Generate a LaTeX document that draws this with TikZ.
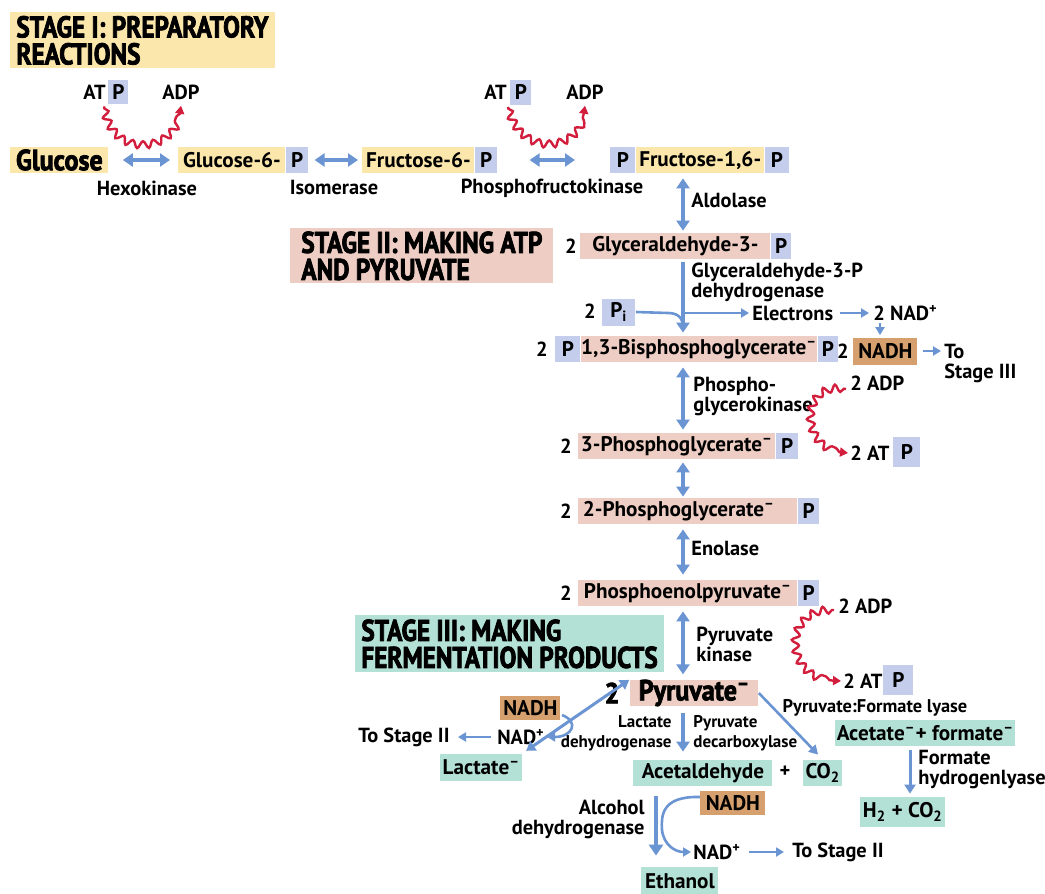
\documentclass[tikz,border=0pt]{standalone}
\usepackage{fontspec}
\setmainfont{PT Sans}
\newfontfamily\hfont{PT Sans}[FakeStretch=0.84,FakeBold=2.5]
\newfontfamily\gfont{PT Sans}[FakeStretch=0.9,FakeBold=2.5]
\usetikzlibrary{arrows.meta,decorations.pathmorphing}
\definecolor{ylw}{RGB}{251,230,172}
\definecolor{pblu}{RGB}{196,206,236}
\definecolor{pnk}{RGB}{238,206,196}
\definecolor{grn}{RGB}{180,225,213}
\definecolor{brn}{RGB}{214,160,110}
\definecolor{ablu}{RGB}{106,148,210}
\definecolor{rd}{RGB}{210,30,60}
\newcommand{\supminus}{\textsuperscript{\textendash}}
\newcommand{\supplus}{\textsuperscript{+}}
\tikzset{
 txt/.style={font=\bfseries\fontsize{10.2}{10}\selectfont, inner sep=0pt, align=left},
 sml/.style={font=\bfseries\fontsize{8.5}{10}\selectfont},
 bx/.style={font=\bfseries\fontsize{10.6}{10}\selectfont, align=left, minimum height=13pt, inner sep=0pt, anchor=west},
 ybox/.style={bx, fill=ylw},
 pbx/.style={bx, fill=pblu},
 kbox/.style={bx, fill=pnk},
 gbox/.style={bx, fill=grn},
 nbox/.style={bx, fill=brn},
 head/.style={font=\hfont\bfseries\fontsize{15}{13.5}\selectfont, align=left, inner xsep=3pt, inner ysep=0pt, anchor=north west},
 big/.style={font=\gfont\bfseries\fontsize{14.5}{13}\selectfont},
 dbl/.style={draw=ablu, line width=2pt, {Triangle[length=5pt,width=6.5pt]}-{Triangle[length=5pt,width=6.5pt]}},
 sgl/.style={draw=ablu, line width=2pt, -{Triangle[length=5pt,width=6.5pt]}},
 thn/.style={draw=ablu, line width=1.3pt, -{Triangle[length=4pt,width=4.5pt]}},
 wavy/.style={draw=rd, line width=1.2pt, -{Triangle[length=4pt,width=4.5pt]}, decorate, decoration={snake, amplitude=1.8pt, segment length=5.5pt, pre length=1pt, post length=4pt}},
}
\begin{document}
\begin{tikzpicture}[x=0.5pt,y=-0.5pt]
\useasboundingbox (0,0) rectangle (1045,894);
\coordinate (ax) at (683,0);
% ---------- headings
\node[head, fill=ylw, minimum width=130pt, minimum height=28pt] (s1) at (10,12) {STAGE I: PREPARATORY\\REACTIONS};
\node[head, fill=pnk, minimum width=131.5pt, minimum height=27.5pt] (s2) at (290,228) {STAGE II: MAKING ATP\\AND PYRUVATE};
\node[head, fill=grn, minimum width=150pt, minimum height=28.5pt] (s3) at (355,615) {STAGE III: MAKING\\FERMENTATION PRODUCTS};
% ---------- stage I
\node[txt, anchor=east] (at1) at (106,92) {AT};
\node[pbx, minimum width=10pt, minimum height=12pt] (at1p) at (108,92) {P};
\node[txt] (adp1) at (181,92) {ADP};
\node[txt, anchor=east] (at2) at (507,92) {AT};
\node[pbx, minimum width=10.5pt, minimum height=12.5pt] (at2p) at (510,92) {P};
\node[txt] (adp2) at (585,92) {ADP};

\node[ybox, big, minimum width=49pt] (glc) at (10,160) {Glucose};
\node[ybox, minimum width=53.5pt] (g6) at (178,160) {Glucose-6-};
\node[pbx, minimum width=11pt] (g6p) at (g6.east) {P};
\node[ybox, minimum width=56pt] (f6) at (362,160) {Fructose-6-};
\node[pbx, minimum width=11pt] (f6p) at (f6.east) {P};
\node[pbx, minimum width=12.5pt] (f16a) at (610,160) {P};
\node[ybox, minimum width=64pt] (f16) at (f16a.east) {Fructose-1,6-};
\node[pbx, minimum width=12pt] (f16b) at (f16.east) {P};

\node[txt] (hexo) at (147,188) {Hexokinase};
\node[txt] (iso) at (334,188) {Isomerase};
\node[txt] (pfk) at (552,188) {Phosphofructokinase};
\node[txt, anchor=west] (ald) at (691,200) {Aldolase};

\draw[dbl, shorten <=7pt, shorten >=4pt] (glc) -- (g6);
\draw[dbl, shorten <=3pt, shorten >=2pt] (g6p) -- (f6);
\draw[dbl, shorten <=16pt, shorten >=17.5pt] (f6p) -- (f16a);
\draw[wavy] ([xshift=-2pt,yshift=-1pt]at1p.south west) .. controls (112,158) and (178,150) .. ([yshift=-3pt]adp1.south);
\draw[wavy] ([xshift=-1pt,yshift=-1pt]at2p.south west) .. controls (520,156) and (582,150) .. ([yshift=-3pt]adp2.south);
% ---------- stage II
\node[txt] (two1) at (571,246) {2};
\node[kbox, minimum width=95pt] (gap) at (580,246) {Glyceraldehyde-3-};
\node[pbx, minimum width=10pt] (gapp) at (gap.east) {P};
\draw[dbl, shorten <=2.5pt, shorten >=1pt] (f16.south -| ax) -- (gap.north -| ax);

\node[txt, anchor=west] (gapdh) at (691,282) {Glyceraldehyde-3-P\\dehydrogenase};
\node[txt] (two2) at (590,311) {2};
\node[pbx, minimum width=16.5pt, minimum height=13.5pt] (pi) at (602,312) {P\textsubscript{i}};
\node[txt, anchor=west] (elec) at (752,313) {Electrons};
\node[txt, anchor=west] (nad) at (873,313) {2 NAD\supplus};

\node[txt] (two3) at (542,349) {2};
\node[pbx, minimum width=12.5pt] (bpga) at (555,349) {P};
\node[kbox, minimum width=116pt] (bpg) at (bpga.east) {1,3-Bisphosphoglycerate\supminus};
\node[pbx, minimum width=10pt] (bpgb) at (bpg.east) {P};
\node[txt] (two4) at (843,351) {2};
\node[nbox, minimum width=32pt, minimum height=13.5pt] (nadh) at (853,351) {NADH};
\node[txt, anchor=north west] (to3) at (944,344) {To\\Stage III};

\coordinate (br) at (683,313);
\coordinate (mg) at (683,327);
\draw[sgl, shorten <=1.5pt, shorten >=1.5pt] (gap.south -| ax) -- (bpg.north -| ax);
\draw[draw=ablu, line width=1.3pt] (pi.east) -- (668,313) .. controls (678,313) and (683,318) .. (mg);
\draw[thn, shorten >=1.5pt] (br) -- (elec.west);
\draw[thn, shorten <=3pt, shorten >=2pt] (elec.east) -- (nad.west);
\draw[thn, shorten <=1pt, shorten >=1pt] (nad.south -| 880,0) -- (nadh.north -| 880,0);
\draw[thn, shorten <=2.5pt, shorten >=1.5pt] (nadh.east) -- (nadh.east -| to3.west);

\node[txt, anchor=west] (pgk) at (693,396) {Phospho-\\glycerokinase};
\node[txt, anchor=west] (adp3) at (850,383) {2 ADP};
\node[txt, anchor=west] (at3) at (850,453) {2 AT};
\node[pbx, minimum width=13.5pt, minimum height=15pt] (at3p) at (893,452) {P};
\draw[wavy] ([xshift=-2pt,yshift=-3pt]adp3.west) .. controls (802,382) and (802,452) .. ([xshift=-1pt]at3.west);

\node[txt] (two5) at (566,446) {2};
\node[kbox, minimum width=98.5pt] (pg3) at (578,446) {3-Phosphoglycerate\supminus};
\node[pbx, minimum width=11pt] (pg3p) at (pg3.east) {P};
\draw[dbl, shorten <=2.5pt, shorten >=1.5pt] (bpg.south -| ax) -- (pg3.north -| ax);

\node[txt] (two6) at (566,511) {2};
\node[kbox, minimum width=109.5pt, text width=105pt, inner xsep=2.25pt] (pg2) at (578,511) {2-Phosphoglycerate\supminus};
\node[pbx, minimum width=10.5pt] (pg2p) at (pg2.east) {P};
\draw[dbl, shorten <=1.5pt, shorten >=0.5pt] (pg3.south -| ax) -- (pg2.north -| ax);

\node[txt, anchor=west] (eno) at (691,548) {Enolase};
\node[txt] (two7) at (566,593) {2};
\node[kbox, minimum width=109.5pt] (pep) at (578,593) {Phosphoenolpyruvate\supminus};
\node[pbx, minimum width=10.5pt] (pepp) at (pep.east) {P};
\draw[dbl, shorten <=2.5pt, shorten >=2.5pt] (pg2.south -| ax) -- (pep.north -| ax);

\node[txt, anchor=west] (pk) at (696,644) {Pyruvate\\kinase};
\node[txt, anchor=west] (adp4) at (838,606) {2 ADP};
\node[txt, anchor=west] (at4) at (843,681) {2 AT};
\node[pbx, minimum width=15pt, minimum height=15pt] (at4p) at (883,680) {P};
\draw[wavy] ([xshift=-2pt,yshift=-2pt]adp4.west) .. controls (785,608) and (785,682) .. ([xshift=-1pt]at4.west);
% ---------- stage III
\node[txt, big] (two8) at (612,693) {2};
\node[kbox, big, minimum width=64pt] (pyr) at (630,693) {Pyruvate\supminus};
\draw[dbl, shorten <=2.5pt, shorten >=2.5pt] (pep.south -| ax) -- (pyr.north -| ax);

\node[nbox, minimum width=30pt, minimum height=12pt] (nadh1) at (500,708) {NADH};
\node[txt] (nadp1) at (521,737) {NAD\supplus};
\node[txt, anchor=east] (ts1) at (450,737) {To Stage II};
\node[gbox, minimum width=41pt, minimum height=13.5pt] (lac) at (440,767) {Lactate\supminus};
\coordinate (h1) at (562,715);
\draw[draw=ablu, line width=1.5pt, {Triangle[length=4.5pt,width=5.5pt]}-{Triangle[length=4.5pt,width=5.5pt]}, shorten <=0.5pt, shorten >=2pt] (pyr.north west) -- (lac.north east);
\draw[thn] (h1) .. controls (580,722) and (572,737) .. ([xshift=1pt]nadp1.east);
\draw[thn, shorten <=3pt, shorten >=4pt] (nadp1.west) -- (ts1.east);

\node[txt, sml, anchor=east, align=right] (ldh) at (672,733) {Lactate\\dehydrogenase};
\node[txt, sml, anchor=west] (pdc) at (693,733) {Pyruvate\\decarboxylase};
\node[gbox, minimum width=69.5pt] (acet) at (633,773) {Acetaldehyde};
\node[txt] (plus) at (785,772) {+};
\node[gbox, minimum width=19.5pt] (co2) at (803,773) {CO\textsubscript{2}};
\draw[sgl, shorten <=3pt, shorten >=4pt] (pyr.south -| ax) -- (acet.north -| ax);
\draw[draw=ablu, line width=1.3pt, -{Triangle[length=4.5pt,width=5pt]}, shorten >=3.5pt] (pyr.east) -- (co2.north);

\node[txt, font=\bfseries\fontsize{9.2}{10}\selectfont] (pfl) at (875,708) {Pyruvate:Formate lyase};
\node[gbox, minimum width=90pt] (acfo) at (835,733) {Acetate\supminus+ formate\supminus};
\node[txt, anchor=west] (fhl) at (918,770) {Formate\\hydrogenlyase};
\node[gbox, minimum width=42.5pt, minimum height=15pt] (h2) at (860,812) {H\textsubscript{2} + CO\textsubscript{2}};
\draw[draw=ablu, line width=1.5pt, -{Triangle[length=4.5pt,width=5.5pt]}, shorten <=2pt, shorten >=1.5pt] (acfo.south -| 910,0) -- (h2.north -| 910,0);

\node[nbox, minimum width=32.5pt, minimum height=12pt] (nadh2) at (700,803) {NADH};
\node[txt, anchor=east, align=right] (adh) at (645,819) {Alcohol\\dehydrogenase};
\node[gbox, minimum width=38.5pt, minimum height=14pt] (eth) at (641,881) {Ethanol};
\node[txt, anchor=west] (nadp2) at (693,852) {NAD\supplus};
\node[txt, anchor=west] (ts2) at (792,852) {To Stage II};
\draw[draw=ablu, line width=2.4pt, -{Triangle[length=5.5pt,width=7pt]}, shorten <=5pt, shorten >=5.5pt] (acet.south -| 656,0) -- (eth.north -| 656,0);
\draw[thn] ([yshift=3pt]nadh2.west) .. controls (662,796) and (661,815) .. (662,830) .. controls (664,846) and (676,852) .. ([xshift=-1pt]nadp2.west);
\draw[thn, shorten <=4pt, shorten >=4pt] (nadp2.east) -- (ts2.west);
\end{tikzpicture}
\end{document}
